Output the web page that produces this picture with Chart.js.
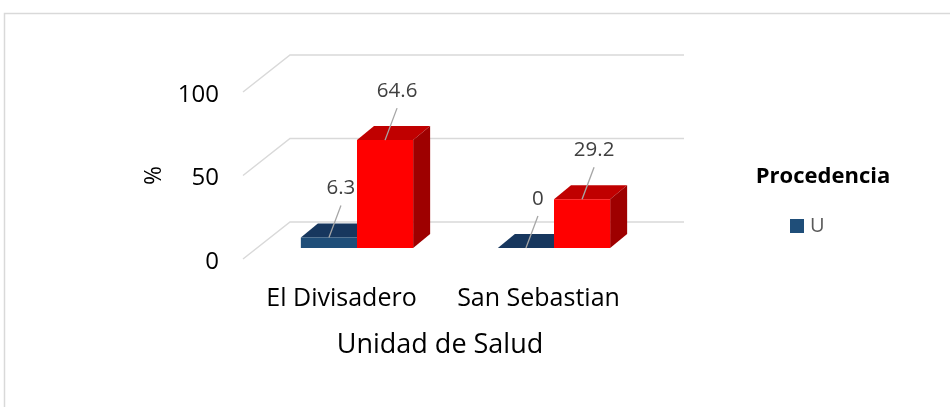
<!DOCTYPE html>
<html lang="es">
<head>
    <meta charset="UTF-8">
    <title>Procedencia por Unidad de Salud</title>
    <script src="https://cdn.jsdelivr.net/npm/chart.js"></script>
    <style>
        body {
            margin: 0;
            background: #fff;
        }
        canvas {
            display: block;
        }
    </style>
</head>
<body>
    <canvas id="chart" width="950" height="407"></canvas>

    <script>
        // Data
        const categories = ['El Divisadero', 'San Sebastian'];
        const serieU = [6.3, 0];
        const serieOtra = [64.6, 29.2];
        const yTicks = [0, 50, 100];

        const FONT = '"Open Sans", Lato, sans-serif';

        // 3D look: bar plane sits a bit behind the front plane of the axes
        const barShift = { x: 15.5, y: -11 };
        const depth = { x: 17, y: -14 };
        const wallShift = { x: 47, y: -37 };

        const faceColors = [
            { top: '#17375e', side: '#153352' },
            { top: '#c00000', side: '#9e0000' }
        ];

        const frame = {
            id: 'frame',
            beforeDraw(chart) {
                const ctx = chart.ctx;
                ctx.save();
                ctx.strokeStyle = '#d9d9d9';
                ctx.lineWidth = 1.5;
                ctx.beginPath();
                ctx.moveTo(4.5, chart.height);
                ctx.lineTo(4.5, 13.5);
                ctx.lineTo(chart.width, 13.5);
                ctx.stroke();
                ctx.restore();
            }
        };

        const walls = {
            id: 'walls',
            beforeDatasetsDraw(chart) {
                const ctx = chart.ctx;
                const area = chart.chartArea;
                const y = chart.scales.y;
                ctx.save();
                ctx.strokeStyle = '#d9d9d9';
                ctx.lineWidth = 1.5;
                yTicks.forEach(v => {
                    const py = y.getPixelForValue(v);
                    ctx.beginPath();
                    ctx.moveTo(area.left, py);
                    ctx.lineTo(area.left + wallShift.x, py + wallShift.y);
                    ctx.lineTo(area.right + wallShift.x, py + wallShift.y);
                    ctx.stroke();
                });
                ctx.restore();

                // faces first, so the front faces drawn by Chart.js cover them
                ctx.save();
                ctx.translate(barShift.x, barShift.y);
                chart.data.datasets.forEach((ds, i) => {
                    chart.getDatasetMeta(i).data.forEach(bar => {
                        const l = bar.x - bar.width / 2;
                        const r = bar.x + bar.width / 2;
                        const t = Math.min(bar.y, bar.base);
                        const b = bar.base;
                        ctx.fillStyle = faceColors[i].top;
                        ctx.beginPath();
                        ctx.moveTo(l, t);
                        ctx.lineTo(r, t);
                        ctx.lineTo(r + depth.x, t + depth.y);
                        ctx.lineTo(l + depth.x, t + depth.y);
                        ctx.closePath();
                        ctx.fill();
                        if (b - t > 0) {
                            ctx.fillStyle = faceColors[i].side;
                            ctx.beginPath();
                            ctx.moveTo(r, t);
                            ctx.lineTo(r + depth.x, t + depth.y);
                            ctx.lineTo(r + depth.x, b + depth.y);
                            ctx.lineTo(r, b);
                            ctx.closePath();
                            ctx.fill();
                        }
                    });
                });
                // keep the shift for the bars themselves
            },
            afterDatasetsDraw(chart) {
                const ctx = chart.ctx;
                ctx.restore();

                // value labels with leader lines
                ctx.save();
                ctx.font = '20.5px ' + FONT;
                ctx.fillStyle = '#404040';
                ctx.textAlign = 'center';
                ctx.textBaseline = 'middle';
                ctx.strokeStyle = '#a6a6a6';
                ctx.lineWidth = 1.3;
                chart.data.datasets.forEach((ds, i) => {
                    chart.getDatasetMeta(i).data.forEach((bar, j) => {
                        const bx = bar.x + barShift.x;
                        const by = bar.y + barShift.y;
                        const lx = bx + 12;
                        const ly = by - 49;
                        ctx.beginPath();
                        ctx.moveTo(lx, ly + 17);
                        ctx.lineTo(bx, by);
                        ctx.stroke();
                        ctx.fillText(String(ds.data[j]), lx, ly);
                    });
                });
                ctx.restore();

                // legend (only the "U" series is listed)
                ctx.save();
                ctx.font = 'bold 22px ' + FONT;
                ctx.fillStyle = '#000';
                ctx.textAlign = 'center';
                ctx.textBaseline = 'middle';
                ctx.fillText('Procedencia', 823, 177);
                const ds0 = chart.data.datasets[0];
                ctx.fillStyle = ds0.backgroundColor;
                ctx.fillRect(790, 219, 14, 14);
                ctx.font = '20px ' + FONT;
                ctx.fillStyle = '#595959';
                ctx.textAlign = 'left';
                ctx.fillText(ds0.label, 810, 226);
                ctx.restore();
            }
        };

        new Chart(document.getElementById('chart'), {
            type: 'bar',
            data: {
                labels: categories,
                datasets: [
                    {
                        label: 'U',
                        data: serieU,
                        backgroundColor: '#1f4e79',
                        borderWidth: 0
                    },
                    {
                        label: 'R',
                        data: serieOtra,
                        backgroundColor: '#ff0000',
                        borderWidth: 0
                    }
                ]
            },
            options: {
                responsive: false,
                animation: false,
                layout: {
                    padding: { left: 130, right: 313, top: 92, bottom: 0 }
                },
                datasets: {
                    bar: {
                        categoryPercentage: 0.57,
                        barPercentage: 1
                    }
                },
                scales: {
                    x: {
                        grid: { display: false, drawTicks: false },
                        border: { display: false },
                        ticks: {
                            color: '#000',
                            font: { family: FONT, size: 25 },
                            padding: 25
                        },
                        title: {
                            display: true,
                            text: 'Unidad de Salud',
                            color: '#000',
                            font: { family: FONT, size: 27 },
                            padding: { top: 0, bottom: 45 }
                        },
                        afterFit(scale) {
                            scale.height = 148;
                        }
                    },
                    y: {
                        min: 0,
                        max: 100,
                        grid: { display: false, drawTicks: false },
                        border: { display: false },
                        ticks: {
                            stepSize: 50,
                            color: '#000',
                            font: { family: FONT, size: 24 },
                            padding: 24,
                            labelOffset: 3
                        },
                        title: {
                            display: true,
                            text: '%',
                            color: '#000',
                            font: { family: FONT, size: 23 },
                            padding: { top: 11, bottom: 0 }
                        },
                        afterFit(scale) {
                            scale.width = 113;
                        }
                    }
                },
                plugins: {
                    legend: { display: false },
                    tooltip: { enabled: false }
                }
            },
            plugins: [frame, walls]
        });
    </script>
</body>
</html>
